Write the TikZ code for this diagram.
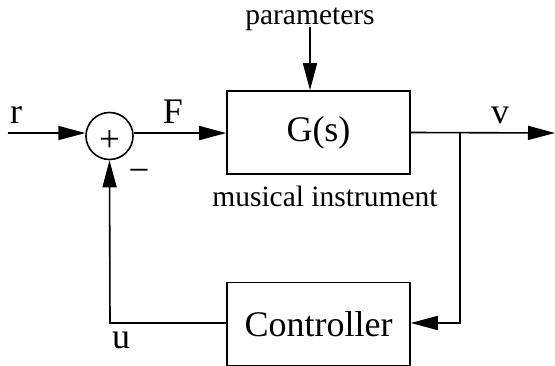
\documentclass[tikz,border=0pt]{standalone}
\usepackage{fontspec}
\setmainfont{Liberation Serif}
\usetikzlibrary{arrows.meta}
\begin{document}
\begin{tikzpicture}[x=1pt,y=-1pt,line width=1.6pt,
  tip/.style={-{Triangle[length=27pt,width=14pt]}},
  blockbox/.style={draw,minimum width=183pt,minimum height=83pt,inner sep=0pt},
  big/.style={font=\fontsize{36}{40}\selectfont},
  small/.style={font=\fontsize{29.5}{32}\selectfont},
  sign/.style={font=\fontsize{37}{40}\selectfont,inner sep=0pt,anchor=base}]
\useasboundingbox (0,0) rectangle (555,366);
\node[draw,circle,minimum size=47pt,inner sep=0pt] (sum) at (109.5,136) {};
\node[sign] (plus) at (109.5,152) {+};
\node[blockbox,big] (G) at (318.5,132.5) {G(s)};
\node[blockbox,big] (C) at (318.5,324) {Controller};
\coordinate (rin) at (8,133);
\coordinate (par) at (310,27);
\coordinate (out) at (555,133);
\coordinate (br) at (460,133);
\coordinate (brd) at (460,323);
\coordinate (ul) at (110,323);
\draw[tip] (rin) -- (sum.173);
\draw[tip] (sum.7) -- (sum.7 -| G.west);
\draw[tip] (par) -- (par |- G.north);
\draw[tip] (G.east) -- (out);
\draw[tip] (br) -- (brd) -- (C.east |- brd);
\draw[tip] (C.west |- ul) -- (ul) -- (sum.south);
\node[small,anchor=base] (ptxt) at (310,25) {parameters};
\node[small,anchor=base] (mtxt) at (325,207) {musical instrument};
\node[big,anchor=base] (rl) at (16,124) {r};
\node[big,anchor=base] (Fl) at (173,124) {F};
\node[big,anchor=base] (vl) at (500,124) {v};
\node[big,anchor=base] (ul2) at (121,349) {u};
\node[sign] (minus) at (139,183) {−};
\end{tikzpicture}
\end{document}
